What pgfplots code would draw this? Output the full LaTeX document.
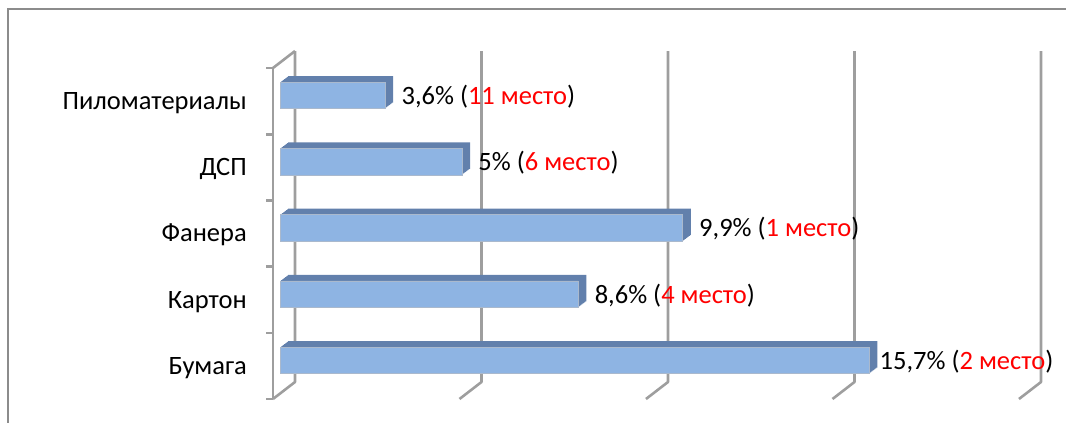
\documentclass[border=0pt]{standalone}
\usepackage{pgfplots}
\pgfplotsset{compat=1.18}
\usepackage{pgfplotstable}
\usepackage{fontspec}
\setmainfont{Carlito}

\definecolor{barfront}{RGB}{142,180,227}
\definecolor{barside}{RGB}{98,128,172}
\definecolor{baredge}{RGB}{170,185,205}
\definecolor{wall}{RGB}{158,158,158}
\definecolor{frame}{RGB}{140,140,140}

% bar lengths as drawn; labels are the chart's own texts
\pgfplotstableread[col sep=semicolon]{
pos;share;label
0;15.8;\hspace{-6bp}15,7\% (\textcolor{red}{2 место})
1;8.0;8,6\% (\textcolor{red}{4 место})
2;10.8;9,9\% (\textcolor{red}{1 место})
3;4.88;5\% (\textcolor{red}{6 место})
4;2.82;3,6\% (\textcolor{red}{11 место})
}\shares

\begin{document}
\begin{tikzpicture}[font=\fontsize{26.6}{31}\selectfont]
% frame and 3D walls, in image pixels
\begin{scope}[x=1bp,y=-1bp]
  \draw[frame, line width=1.5bp] (8,9) rectangle (1100,470);
  \tikzset{wall/.style={draw=wall, line width=2.6bp, line join=round}}
  \draw[wall] (273,68) -- (273,399);
  \draw[wall] (273,68) -- (295,51);
  \foreach \k in {0,...,4}
    \draw[wall] ({295+186.5*\k},51) -- ({295+186.5*\k},382) -- ({273+186.5*\k},399);
  \foreach \y in {68,134.2,200.4,266.6,332.8,399}
    \draw[wall] (266,\y) -- (273,\y);
\end{scope}

\begin{axis}[
  at={(280bp,-393.6bp)}, anchor=south west,
  scale only axis, width=746bp, height=331.25bp,
  xmin=0, xmax=20, ymin=-0.5, ymax=4.5,
  axis line style={draw=none},
  major tick length=0pt,
  xtick=\empty,
  ytick={0,1,2,3,4},
  yticklabels={Бумага,Картон,Фанера,ДСП,Пиломатериалы},
  yticklabel style={anchor=base east, inner sep=0pt, xshift=-33bp, yshift=-14bp},
  clip=false,
]
\pgfplotsinvokeforeach{8,7,...,1}{
  \addplot[xbar, bar shift=0pt, bar width=26.5bp, fill=barside, draw=none,
    xshift=#1bp, yshift=0.75*#1bp] table[x=share, y=pos]{\shares};
}
\addplot[xbar, bar shift=0pt, bar width=26.5bp, fill=barfront, draw=baredge,
  line width=0.8bp,
  nodes near coords, point meta=explicit symbolic,
  nodes near coords style={anchor=base west, inner sep=0pt, xshift=16bp,
    yshift=-9bp, text=black}]
  table[x=share, y=pos, meta=label]{\shares};
\end{axis}
\pgfresetboundingbox
\useasboundingbox (0,0) rectangle (1066bp,-423bp);
\end{tikzpicture}
\end{document}
